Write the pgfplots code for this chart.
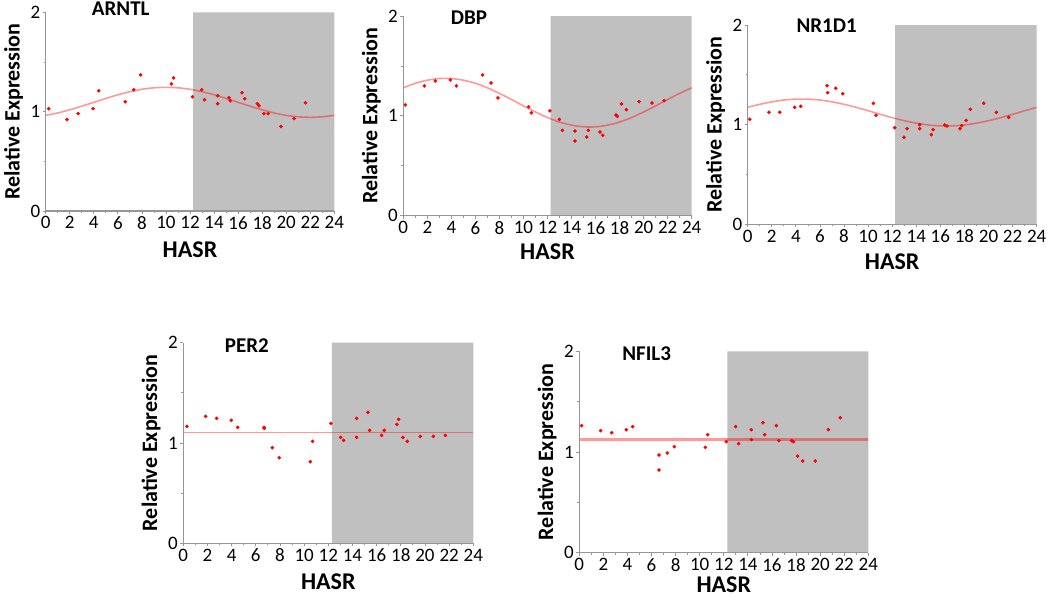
\documentclass[border=0pt]{standalone}
\usepackage{fontspec}
\setmainfont{Carlito}
\usepackage{pgfplots}
\pgfplotsset{compat=1.18}
\definecolor{shade}{RGB}{192,192,192}
\definecolor{axgray}{RGB}{150,150,150}
\definecolor{dotred}{RGB}{255,0,0}
\pgfplotsset{
  panel/.style={
    scale only axis, width=289pt, height=200pt,
    xmin=0, xmax=24, ymin=0, ymax=2,
    axis lines*=left,
    axis line style={draw=axgray, line width=1.3pt},
    xtick={0,2,...,24}, ytick={0,1,2},
    minor xtick={1,3,...,23}, minor ytick={0.5,1.5},
    tick style={axgray, line width=0.8pt},
    major tick length=3pt, minor tick length=2pt,
    tick align=outside,
    axis on top,
    /pgf/number format/assume math mode=true,
    tick label style={font=\fontsize{19}{19}\selectfont, text=black},
    xticklabel style={yshift=1pt},
    yticklabel style={xshift=1pt},
    xlabel={HASR}, ylabel={Relative Expression},
    xlabel style={font=\bfseries\fontsize{24}{24}\selectfont, anchor=center},
    ylabel style={font=\bfseries\fontsize{22}{22}\selectfont, at={(axis description cs:-0.111,0.5)}, anchor=center, rotate=0},
    title style={font=\bfseries\fontsize{21}{21}\selectfont, anchor=center},
  },
  fit/.style={draw=red, draw opacity=0.4, line width=1.6pt, smooth, no marks},
  pts/.style={only marks, mark=*, mark size=1.6pt, color=dotred},
}
\begin{document}
\begin{tikzpicture}
\useasboundingbox (0,0) rectangle (1050pt,-603pt);
% ARNTL
\begin{axis}[panel, at={(45.7pt,-211pt)}, anchor=south west, width=288.6pt, height=198.7pt,
  title={ARNTL}, title style={at={(axis description cs:0.26,0.986)}},
  xlabel style={at={(axis description cs:0.5,-0.196)}}]
\addplot[fill=shade, draw=none] coordinates {(12.25,0) (24,0) (24,2) (12.25,2)} \closedcycle;
\addplot[fit] coordinates {(0,0.963)(1,0.987)(2,1.019)(3,1.055)(4,1.094)(5,1.133)(6,1.170)(7,1.201)(8,1.225)(9,1.240)(10,1.245)(11,1.240)(12,1.225)(13,1.201)(14,1.170)(15,1.133)(16,1.094)(17,1.055)(18,1.019)(19,0.987)(20,0.963)(21,0.948)(22,0.943)(23,0.948)(24,0.963)};
\addplot[pts] coordinates {(0.25,1.03)(1.77,0.92)(2.69,0.98)(3.94,1.03)(4.41,1.21)(6.62,1.10)(7.32,1.22)(7.9,1.37)(10.45,1.28)(10.64,1.34)(12.2,1.15)(12.97,1.22)(13.2,1.12)(14.3,1.16)(14.3,1.08)(15.24,1.14)(15.35,1.11)(16.32,1.19)(16.55,1.13)(17.6,1.08)(17.74,1.06)(18.15,0.98)(18.5,0.98)(19.57,0.85)(20.65,0.93)(21.6,1.09)};
\end{axis}
% DBP
\begin{axis}[panel, at={(403.3pt,-215.7pt)}, anchor=south west, width=288.4pt, height=199.7pt,
  title={DBP}, title style={at={(axis description cs:0.228,0.963)}},
  xlabel style={at={(axis description cs:0.5,-0.18)}}]
\addplot[fill=shade, draw=none] coordinates {(12.25,0) (24,0) (24,2) (12.25,2)} \closedcycle;
\addplot[fit] coordinates {(0,1.281)(1,1.326)(2,1.357)(3,1.374)(4,1.374)(5,1.357)(6,1.326)(7,1.281)(8,1.225)(9,1.164)(10,1.100)(11,1.039)(12,0.983)(13,0.938)(14,0.907)(15,0.890)(16,0.890)(17,0.907)(18,0.938)(19,0.983)(20,1.039)(21,1.100)(22,1.164)(23,1.225)(24,1.281)};
\addplot[pts] coordinates {(0.17,1.11)(1.75,1.30)(2.66,1.35)(3.91,1.36)(4.41,1.30)(6.6,1.41)(7.3,1.33)(7.88,1.18)(10.43,1.09)(10.65,1.03)(12.2,1.05)(12.99,0.965)(13.24,0.855)(14.29,0.848)(14.29,0.748)(15.26,0.788)(15.4,0.855)(16.37,0.838)(16.6,0.805)(17.7,1.008)(17.81,0.995)(18.15,1.119)(18.56,1.062)(19.62,1.142)(20.7,1.129)(21.7,1.152)};
\end{axis}
% NR1D1
\begin{axis}[panel, at={(747.7pt,-224.3pt)}, anchor=south west, width=289pt, height=199.3pt,
  title={NR1D1}, title style={at={(axis description cs:0.273,0.966)}},
  xlabel style={at={(axis description cs:0.5,-0.19)}}]
\addplot[fill=shade, draw=none] coordinates {(12.25,0) (24,0) (24,2) (12.25,2)} \closedcycle;
\addplot[fit] coordinates {(0,1.174)(1,1.204)(2,1.229)(3,1.247)(4,1.256)(5,1.256)(6,1.247)(7,1.229)(8,1.204)(9,1.174)(10,1.140)(11,1.104)(12,1.070)(13,1.040)(14,1.015)(15,0.997)(16,0.988)(17,0.988)(18,0.997)(19,1.015)(20,1.040)(21,1.070)(22,1.104)(23,1.140)(24,1.174)};
\addplot[pts] coordinates {(0.17,1.054)(1.77,1.124)(2.66,1.124)(3.9,1.174)(4.4,1.184)(6.59,1.391)(6.64,1.321)(7.31,1.365)(7.89,1.311)(10.44,1.214)(10.66,1.094)(12.21,0.970)(12.98,0.873)(13.23,0.960)(14.28,1.0)(14.28,0.960)(15.25,0.9)(15.39,0.950)(16.36,0.997)(16.55,0.987)(17.63,0.960)(17.77,0.990)(18.13,1.043)(18.49,1.154)(19.6,1.214)(20.65,1.124)(21.67,1.074)};
\end{axis}
% PER2
\begin{axis}[panel, at={(183.3pt,-543.3pt)}, anchor=south west, width=290pt, height=200.6pt,
  title={PER2}, title style={at={(axis description cs:0.219,0.955)}},
  xlabel style={at={(axis description cs:0.5,-0.19)}}]
\addplot[fill=shade, draw=none] coordinates {(12.3,0) (24,0) (24,2) (12.3,2)} \closedcycle;
\addplot[fit] coordinates {(0,1.106)(24,1.106)};
\addplot[pts] coordinates {(0.3,1.166)(1.85,1.266)(2.76,1.246)(3.97,1.226)(4.5,1.156)(6.68,1.156)(6.7,1.146)(7.37,0.953)(7.94,0.854)(10.51,0.814)(10.7,1.017)(12.22,1.196)(13.02,1.056)(13.27,1.027)(14.34,1.246)(14.34,1.056)(15.28,1.306)(15.42,1.126)(16.41,1.076)(16.63,1.126)(17.68,1.186)(17.82,1.236)(18.18,1.056)(18.54,1.017)(19.61,1.066)(20.69,1.066)(21.68,1.076)};
\end{axis}
% NFIL3
\begin{axis}[panel, at={(579.3pt,-552.7pt)}, anchor=south west, width=289pt, height=201.4pt,
  title={NFIL3}, title style={at={(axis description cs:0.233,0.957)}},
  xlabel style={at={(axis description cs:0.5,-0.16)}}]
\addplot[fill=shade, draw=none] coordinates {(12.3,0) (24,0) (24,2) (12.3,2)} \closedcycle;
\addplot[fit, line width=2.4pt] coordinates {(0,1.126)(24,1.126)};
\addplot[pts] coordinates {(0.19,1.262)(1.77,1.212)(2.69,1.192)(3.9,1.222)(4.43,1.252)(6.62,0.970)(6.62,0.821)(7.31,0.990)(7.89,1.053)(10.46,1.046)(10.66,1.172)(12.21,1.103)(12.98,1.252)(13.23,1.083)(14.28,1.222)(14.28,1.123)(15.25,1.291)(15.39,1.172)(16.36,1.262)(16.58,1.113)(17.63,1.113)(17.77,1.103)(18.13,0.960)(18.55,0.911)(19.6,0.911)(20.68,1.222)(21.67,1.341)};
\end{axis}
\end{tikzpicture}
\end{document}
